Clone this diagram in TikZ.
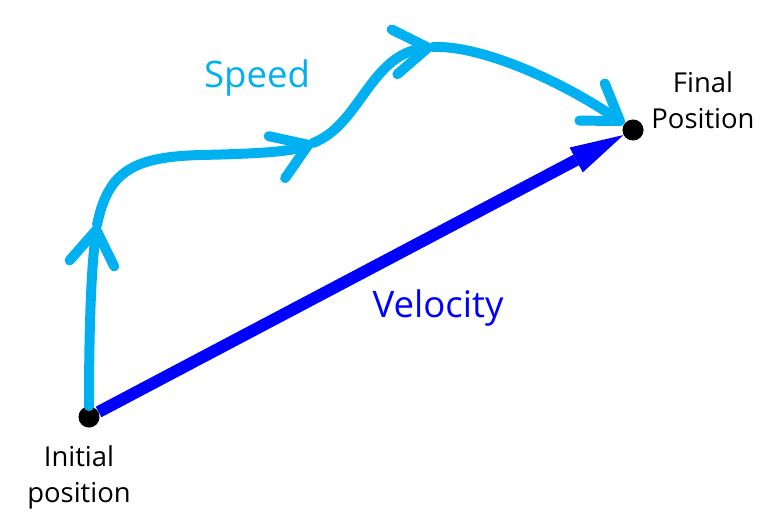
\documentclass[tikz,border=0pt]{standalone}
\usepackage{fontspec}
\setmainfont{Open Sans}
\usetikzlibrary{arrows.meta}
\definecolor{speedblue}{RGB}{0,176,240}
\definecolor{velblue}{RGB}{0,0,255}

\begin{document}
\begin{tikzpicture}[x=0.025cm, y=-0.025cm,
		dot/.style={circle, fill=black, inner sep=0pt, minimum size=15pt},
		barb/.style={-{Straight Barb[length=24pt, width=32pt, line cap=round, line join=round]}},
		lbl/.style={font=\fontsize{19.5}{25.6}\selectfont, align=center, inner sep=0pt},
		big/.style={font=\fontsize{26}{30}\selectfont, inner sep=0pt}]
			%%%%% START %%%%%
			
			\useasboundingbox (0, 0) rectangle (768, 520);
			
			\node[dot] (initial) at (89, 417) {};
			\node[dot] (final) at (633, 130) {};
			
			\coordinate (turn1) at (97, 225);
			\coordinate (turn2) at (313, 143);
			\coordinate (turn3) at (433, 47);
			
			\draw[line width=8.5pt, color=velblue, -{Triangle[length=38pt, width=20pt, line width=0pt]}] (initial) -- (final);
			
			\draw[line width=7.1pt, color=speedblue, line cap=round, barb] (initial) .. controls (89, 330) and (91, 270) .. (turn1);
			\draw[line width=7.1pt, color=speedblue, line cap=round, barb] (turn1) .. controls (108, 170) and (135, 157) .. (200, 155) .. controls (250, 154) and (290, 152) .. (turn2);
			\draw[line width=7.1pt, color=speedblue, line cap=round, barb] (turn2) .. controls (360, 125) and (370, 55) .. (turn3);
			\draw[line width=7.1pt, color=speedblue, line cap=round, barb] (turn3) .. controls (480, 45) and (560, 80) .. (final);
			
			\node[big, color=speedblue, anchor=base] (speed) at (257, 87) {Speed};
			\node[big, color=velblue, anchor=base] (velocity) at (438, 317) {Velocity};
			
			\node[lbl, anchor=base] (finallbl) at (703, 128) {Final\\Position};
			\node[lbl, anchor=base] (initiallbl) at (79, 502) {Initial\\position};
			
			%%%%% END %%%%%
		\end{tikzpicture}
\end{document}
